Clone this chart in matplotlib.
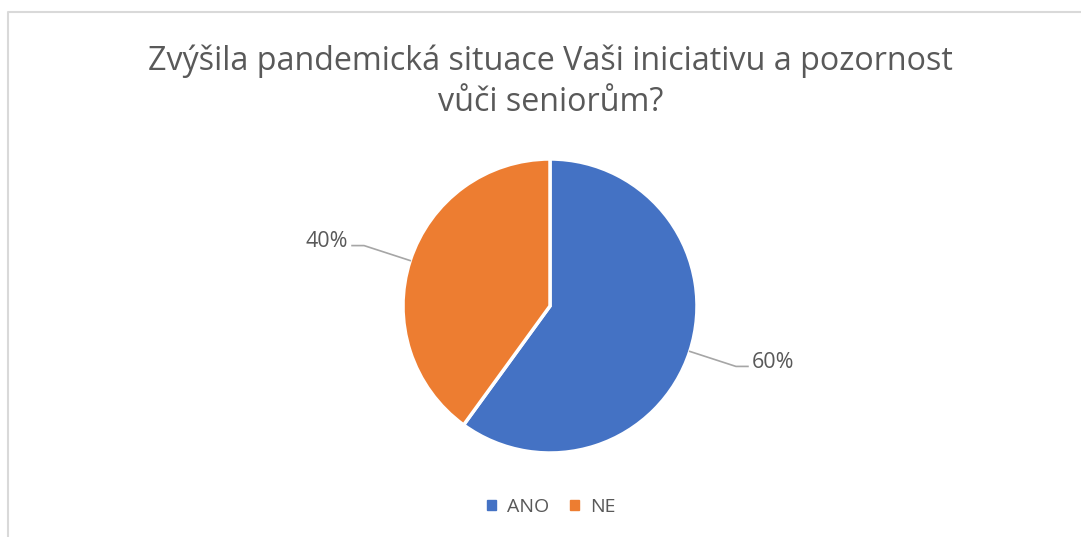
import matplotlib
matplotlib.use("Agg")
import matplotlib.pyplot as plt
import numpy as np

# data
categories = ['ANO', 'NE']
shares = [60, 40]
colors = ['#4472C4', '#ED7D31']
title = 'Zvýšila pandemická situace Vaši iniciativu a pozornost\nvůči seniorům?'

plt.rcParams['font.family'] = ['Open Sans', 'DejaVu Sans']
txt_color = '#595959'

W, H = 1081, 537
fig = plt.figure(figsize=(W / 100, H / 100), dpi=100)
ax = fig.add_axes([0, 0, 1, 1])

cx, cy, r = 550, H - 306, 147
wedges, _ = ax.pie(shares, colors=colors, startangle=90, counterclock=False,
                   center=(cx, cy), radius=r,
                   wedgeprops=dict(edgecolor='white', linewidth=2.5))
ax.set_xlim(0, W)
ax.set_ylim(0, H)
ax.set_aspect('equal')
ax.axis('off')

# data labels with leader lines
for w, v in zip(wedges, shares):
    mid = np.deg2rad((w.theta1 + w.theta2) / 2)
    ca, sa = np.cos(mid), np.sin(mid)
    p0 = (cx + r * ca, cy + r * sa)
    p1 = (cx + 1.33 * r * ca, cy + 1.33 * r * sa)
    side = 1 if ca > 0 else -1
    p2 = (p1[0] + side * 12, p1[1])
    ax.plot([p0[0], p1[0], p2[0]], [p0[1], p1[1], p2[1]],
            color='#A6A6A6', lw=1.2)
    ax.text(p2[0] + side * 4, p2[1] + 4, '%d%%' % v,
            ha='left' if side > 0 else 'right', va='center',
            fontsize=15.5, color=txt_color)

# title
fig.text(0.509, 1 - 82 / H, title, ha='center', va='center',
         fontsize=23.2, color=txt_color, linespacing=1.3)

# legend
handles = [plt.Rectangle((0, 0), 1, 1, color=c) for c in colors]
fig.legend(handles, categories, loc='center', bbox_to_anchor=(0.51, 1 - 507 / H),
           ncol=2, frameon=False, fontsize=14, handlelength=0.45, handleheight=0.45,
           handletextpad=0.55, columnspacing=1.1, labelcolor=txt_color)

# chart border (top and left visible)
ax.plot([8, 8, W], [0, H - 12, H - 12], color='#D9D9D9', lw=1.5, clip_on=False)

fig.savefig('out.png', dpi=100)
